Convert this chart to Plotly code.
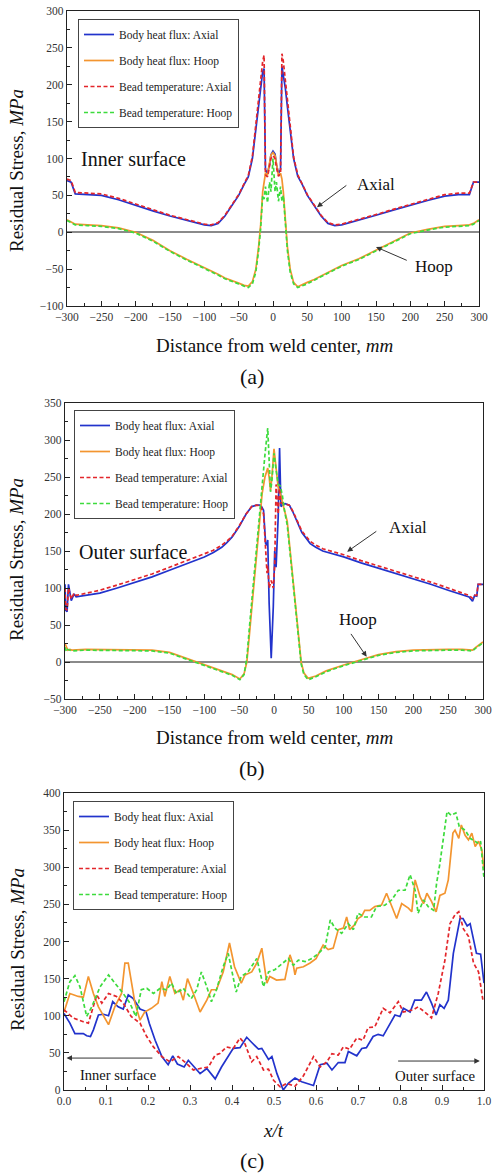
import plotly.graph_objects as go

# ---------------- Panel (a): inner surface ----------------
xa = [-300, -294, -288, -270, -250, -225, -200, -175, -150, -125, -100, -90, -80, -70, -60, -50, -42, -36, -30, -25,
      -21, -18, -15, -13, -11, -8, -5, -3, 0, 3, 5, 8, 11, 13, 15, 18, 21, 25, 30, 36, 42, 50, 60, 70, 80, 90, 100,
      125, 150, 175, 200, 225, 250, 270, 286, 292, 300]
a_bhf_axial = [70, 68, 52, 51, 50, 44, 36, 29, 22, 16, 10, 9, 12, 22, 36, 50, 65, 75, 100, 140,
               172, 196, 218, 222, 85, 80, 92, 105, 110, 106, 92, 80, 85, 225, 215, 195, 170, 138, 100, 76,
               66, 50, 36, 22, 12, 9, 10, 16, 23, 30, 37, 43, 49, 51, 51, 68, 68]
a_bt_axial = [72, 70, 54, 53, 52, 46, 38, 30, 23, 17, 11, 10, 13, 23, 37, 51, 66, 77, 103, 145,
              180, 208, 232, 240, 78, 75, 88, 100, 104, 100, 88, 76, 80, 242, 232, 205, 178, 142, 102, 78,
              67, 51, 37, 23, 13, 10, 11, 17, 24, 31, 38, 45, 51, 53, 53, 68, 68]
a_bhf_hoop = [17, 14, 11, 10, 9, 6, 0, -11, -25, -37, -48, -52, -57, -62, -66, -69, -72, -73, -67, -50,
              -20, 10, 55, 70, 80, 78, 95, 105, 108, 104, 93, 77, 80, 72, 55, 10, -20, -50, -68, -74,
              -71, -68, -64, -59, -54, -49, -45, -36, -24, -12, -1, 4, 8, 9, 10, 12, 17]
a_bt_hoop = [16, 13, 10, 9, 8, 5, -1, -12, -26, -38, -49, -53, -58, -63, -67, -70, -73, -75, -70, -54,
             -25, 5, 50, 45, 62, 40, 68, 55, 100, 55, 68, 42, 62, 42, 50, 5, -25, -54, -70, -75,
             -73, -70, -65, -60, -55, -50, -46, -37, -25, -13, -2, 3, 7, 8, 9, 11, 16]

# ---------------- Panel (b): outer surface ----------------
xb_axial = [-300, -299, -297, -295, -291, -287, -284, -270, -250, -225, -200, -175, -150, -125, -100, -87, -75, -68,
            -60, -50, -40, -32, -25, -19, -15, -12, -10, -9, -7, -4, -1, 1, 3, 6, 8, 10, 13, 16, 22, 27, 33, 40,
            52, 60, 70, 85, 100, 125, 150, 175, 200, 225, 250, 270, 280, 285, 288, 291, 293, 300]
b_bhf_axial = [105, 70, 68, 105, 83, 92, 88, 90, 93, 100, 107, 115, 124, 133, 142, 148, 155, 161, 169, 183,
               200, 210, 212, 212, 205, 160, 158, 165, 80, 5, 75, 150, 128, 196, 289, 210, 213, 214, 212, 203,
               190, 175, 160, 155, 150, 146, 142, 134, 127, 120, 112, 105, 97, 91, 88, 82, 90, 89, 105, 105]
b_bt_axial = [100, 72, 70, 100, 85, 93, 90, 93, 97, 104, 111, 119, 128, 137, 146, 151, 158, 163, 170, 184,
              200, 210, 212, 211, 200, 140, 120, 130, 100, 110, 100, 130, 240, 200, 235, 215, 214, 214, 212, 204,
              192, 177, 163, 158, 153, 149, 145, 137, 130, 123, 115, 108, 100, 94, 90, 86, 90, 90, 105, 105]
xb_hoop = [-300, -298, -296, -293, -290, -270, -250, -225, -200, -175, -150, -125, -111, -100, -75, -60, -49, -43,
           -39, -35, -30, -25, -21, -17, -13, -9, -7, -5, -3, 0, 3, 6, 9, 12, 15, 19, 23, 27, 31, 35, 39, 43, 49,
           60, 75, 100, 116, 125, 150, 175, 200, 225, 250, 270, 285, 290, 295, 300]
b_bhf_hoop = [25, 20, 16, 17, 16, 17, 17, 17, 17, 16, 13, 5, 0, -4, -12, -17, -23, -16, 0, 40,
              94, 146, 188, 228, 250, 262, 250, 232, 250, 288, 262, 236, 228, 218, 205, 190, 150, 112, 75, 37,
              0, -15, -22, -19, -12, -4, 0, 3, 10, 14, 16, 17, 17, 17, 16, 20, 23, 27]
b_bt_hoop = [20, 14, 17, 16, 15, 16, 16, 16, 16, 15, 12, 4, -1, -5, -13, -18, -24, -17, 5, 50,
             104, 156, 198, 240, 280, 316, 270, 230, 245, 282, 260, 240, 238, 225, 205, 185, 148, 110, 72, 35,
             -3, -17, -24, -20, -13, -5, -1, 2, 9, 13, 15, 16, 16, 16, 15, 19, 22, 26]

# ---------------- Panel (c): through thickness ----------------
xc_bhf_axial = [0, 0.014, 0.026, 0.046, 0.054, 0.063, 0.07, 0.082, 0.094, 0.106, 0.116, 0.129, 0.141, 0.153, 0.165,
                0.181, 0.195, 0.203, 0.217, 0.233, 0.248, 0.259, 0.27, 0.286, 0.296, 0.308, 0.324, 0.34, 0.36,
                0.375, 0.391, 0.403, 0.419, 0.435, 0.447, 0.463, 0.471, 0.487, 0.495, 0.507, 0.522, 0.534, 0.55,
                0.566, 0.594, 0.61, 0.626, 0.638, 0.653, 0.669, 0.677, 0.689, 0.697, 0.709, 0.72, 0.736, 0.748,
                0.76, 0.776, 0.788, 0.8, 0.808, 0.824, 0.835, 0.851, 0.863, 0.875, 0.886, 0.895, 0.905, 0.915,
                0.927, 0.943, 0.95, 0.96, 0.967, 0.982, 0.992, 1.0]
c_bhf_axial = [103, 90, 76, 76, 73, 72, 81, 101, 102, 100, 119, 112, 109, 128, 123, 109, 106, 90, 67, 45,
               34, 46, 35, 31, 40, 32, 22, 29, 15, 31, 45, 56, 57, 71, 64, 55, 56, 41, 45, 22,
               0, 9, 16, 11, 6, 34, 36, 27, 37, 37, 52, 49, 46, 56, 57, 72, 75, 73, 90, 101,
               99, 110, 105, 121, 121, 132, 117, 101, 115, 110, 121, 184, 231, 231, 221, 224, 184, 183, 144]
xc_bhf_hoop = [0, 0.014, 0.034, 0.046, 0.058, 0.07, 0.082, 0.094, 0.106, 0.121, 0.137, 0.145, 0.153, 0.169, 0.181,
               0.192, 0.208, 0.224, 0.233, 0.24, 0.252, 0.264, 0.276, 0.284, 0.294, 0.308, 0.324, 0.34, 0.351,
               0.363, 0.379, 0.394, 0.406, 0.422, 0.431, 0.447, 0.459, 0.471, 0.483, 0.49, 0.506, 0.526, 0.538,
               0.546, 0.55, 0.554, 0.57, 0.586, 0.6, 0.617, 0.629, 0.641, 0.653, 0.665, 0.673, 0.68, 0.693, 0.7,
               0.709, 0.716, 0.728, 0.74, 0.756, 0.768, 0.78, 0.792, 0.804, 0.82, 0.828, 0.836, 0.848, 0.856,
               0.864, 0.875, 0.886, 0.895, 0.907, 0.915, 0.926, 0.931, 0.94, 0.946, 0.955, 0.963, 0.971, 0.979,
               0.987, 0.995, 1.0]
c_bhf_hoop = [105, 130, 126, 125, 153, 130, 112, 99, 88, 112, 130, 171, 171, 117, 94, 105, 110, 117, 146, 126,
              153, 130, 135, 121, 150, 130, 105, 121, 135, 135, 159, 198, 166, 144, 155, 159, 171, 191, 144, 153,
              148, 149, 182, 168, 155, 164, 166, 171, 177, 195, 189, 191, 216, 218, 233, 216, 223, 231, 234, 242,
              242, 247, 249, 265, 249, 231, 251, 245, 240, 283, 260, 251, 265, 254, 240, 262, 265, 283, 346, 350,
              339, 357, 343, 337, 346, 328, 335, 323, 296]
xc_bt_axial = [0, 0.022, 0.046, 0.058, 0.078, 0.09, 0.106, 0.125, 0.141, 0.16, 0.181, 0.197, 0.213, 0.233, 0.252,
               0.272, 0.287, 0.308, 0.324, 0.344, 0.36, 0.371, 0.387, 0.403, 0.419, 0.431, 0.447, 0.459, 0.475,
               0.487, 0.499, 0.515, 0.53, 0.55, 0.57, 0.594, 0.61, 0.626, 0.638, 0.653, 0.665, 0.68, 0.697, 0.712,
               0.724, 0.74, 0.76, 0.776, 0.796, 0.808, 0.832, 0.843, 0.859, 0.875, 0.891, 0.907, 0.919, 0.931,
               0.94, 0.951, 0.963, 0.975, 0.987, 0.998]
c_bt_axial = [108, 97, 92, 90, 128, 117, 130, 126, 117, 99, 90, 72, 58, 45, 38, 45, 38, 27, 29, 31,
              47, 49, 58, 56, 70, 62, 38, 45, 27, 28, 13, 4, 9, 5, 19, 45, 31, 38, 49, 47,
              58, 55, 70, 67, 84, 85, 110, 104, 119, 105, 108, 112, 105, 97, 130, 175, 224, 236, 240, 217,
              207, 171, 159, 119]
xc_bt_hoop = [0, 0.014, 0.026, 0.038, 0.054, 0.066, 0.086, 0.106, 0.121, 0.141, 0.157, 0.171, 0.184, 0.197, 0.213,
              0.229, 0.244, 0.256, 0.268, 0.284, 0.303, 0.316, 0.327, 0.34, 0.351, 0.363, 0.379, 0.391, 0.41,
              0.422, 0.438, 0.459, 0.475, 0.487, 0.502, 0.514, 0.534, 0.546, 0.558, 0.574, 0.59, 0.606, 0.622,
              0.634, 0.645, 0.661, 0.677, 0.689, 0.7, 0.716, 0.732, 0.744, 0.764, 0.78, 0.796, 0.812, 0.824,
              0.836, 0.843, 0.856, 0.867, 0.88, 0.887, 0.895, 0.903, 0.912, 0.922, 0.933, 0.941, 0.955, 0.967,
              0.979, 0.987, 0.992, 1.0]
c_bt_hoop = [119, 146, 154, 139, 99, 112, 139, 155, 144, 130, 117, 99, 135, 137, 130, 137, 135, 144, 130, 137,
             123, 135, 159, 139, 119, 135, 166, 184, 132, 153, 159, 177, 139, 159, 162, 168, 177, 168, 175, 173,
             177, 184, 193, 229, 218, 211, 224, 216, 238, 233, 233, 247, 249, 256, 269, 269, 290, 269, 238, 256,
             247, 242, 278, 305, 337, 375, 370, 373, 355, 350, 339, 335, 332, 335, 285]

series_names = ["Body heat flux: Axial", "Body heat flux: Hoop", "Bead temperature: Axial", "Bead temperature: Hoop"]

# ---------------- styling ----------------
W, H = 492, 1173
SERIF = "Liberation Serif, Times New Roman, serif"
COLORS = ["#2233CC", "#F39530", "#E3262B", "#3DDB3D"]
DASHES = ["solid", "solid", "4px,2.5px", "4px,2.5px"]
LW = 1.7

fig = go.Figure()

panels = [
    ("x", "y", "legend", [(xa, a_bhf_axial), (xa, a_bhf_hoop), (xa, a_bt_axial), (xa, a_bt_hoop)]),
    ("x2", "y2", "legend2", [(xb_axial, b_bhf_axial), (xb_hoop, b_bhf_hoop), (xb_axial, b_bt_axial), (xb_hoop, b_bt_hoop)]),
    ("x3", "y3", "legend3", [(xc_bhf_axial, c_bhf_axial), (xc_bhf_hoop, c_bhf_hoop), (xc_bt_axial, c_bt_axial), (xc_bt_hoop, c_bt_hoop)]),
]
for xr, yr, lg, series in panels:
    for i, (xs, ys) in enumerate(series):
        fig.add_trace(go.Scatter(x=xs, y=ys, mode="lines", name=series_names[i], xaxis=xr, yaxis=yr, legend=lg,
                                 legendgroup=f"{lg}_{i}",
                                 line=dict(color=COLORS[i], width=LW, dash=DASHES[i])))

def px_x(px):
    return px / W

def px_y(py):
    return 1 - py / H

tickfont = dict(family=SERIF, size=11.5, color="#333")
def axis_style(rng, dtick, minor_dtick, domain, anchor, fmt=None, zero=False):
    d = dict(range=rng, dtick=dtick, domain=domain, anchor=anchor, showline=True, linecolor="#222", linewidth=1.2,
             mirror=True, ticks="inside", ticklen=5, tickwidth=1, tickcolor="#222", showgrid=False,
             zeroline=zero, zerolinecolor="#8a8a8a", zerolinewidth=1.5, tickfont=tickfont, automargin=False,
             minor=dict(ticks="inside", ticklen=3, tickwidth=1, tickcolor="#222", dtick=minor_dtick, showgrid=False))
    if fmt:
        d["tickformat"] = fmt
    return d

legend_style = dict(xanchor="left", yanchor="top", bordercolor="#444", borderwidth=1, bgcolor="white",
                    font=dict(family=SERIF, size=11.5, color="#222"), itemwidth=30, tracegroupgap=7)

fig.update_layout(
    width=W, height=H, margin=dict(l=0, r=0, t=0, b=0, autoexpand=False), paper_bgcolor="white",
    plot_bgcolor="white",
    xaxis=axis_style([-300, 300], 50, 25, [px_x(67), px_x(479)], "y"),
    yaxis=axis_style([-100, 300], 50, 25, [px_y(306), px_y(11)], "x", zero=True),
    xaxis2=axis_style([-300, 300], 50, 25, [px_x(65), px_x(483)], "y2"),
    yaxis2=axis_style([-50, 350], 50, 25, [px_y(699), px_y(403)], "x2", zero=True),
    xaxis3=axis_style([0, 1], 0.1, 0.05, [px_x(64), px_x(484)], "y3", fmt=".1f"),
    yaxis3=axis_style([0, 400], 50, 25, [px_y(1090), px_y(793)], "x3"),
    legend=dict(x=px_x(78), y=px_y(19), **legend_style),
    legend2=dict(x=px_x(74), y=px_y(410), **legend_style),
    legend3=dict(x=px_x(73), y=px_y(801), **legend_style),
    showlegend=True,
)

def text_ann(text, px, py, size, xanchor="center", angle=0):
    fig.add_annotation(text=text, x=px_x(px), y=px_y(py), xref="paper", yref="paper", showarrow=False,
                       xanchor=xanchor, yanchor="middle", textangle=angle,
                       font=dict(family=SERIF, size=size, color="#111"))

def arrow(xr, yr, x_head, y_head, x_tail, y_tail):
    fig.add_annotation(x=x_head, y=y_head, ax=x_tail, ay=y_tail, xref=xr, yref=yr, axref=xr, ayref=yr,
                       text="", showarrow=True, arrowhead=2, arrowsize=1.1, arrowwidth=1, arrowcolor="#333",
                       standoff=0, startstandoff=0)

# axis titles and panel labels
ytitle = "Residual Stress, <i>MPa</i>"
xtitle = "Distance from weld center, <i>mm</i>"
text_ann(ytitle, 17, 171, 19, angle=-90)
text_ann(ytitle, 17, 560, 19, angle=-90)
text_ann(ytitle, 17, 950, 19, angle=-90)
text_ann(xtitle, 274, 345, 19)
text_ann(xtitle, 274, 738, 19)
text_ann("<i>x/t</i>", 273, 1130, 19)
text_ann("(a)", 252, 376, 22)
text_ann("(b)", 252, 768, 22)
text_ann("(c)", 252, 1160, 22)

# in-plot labels
text_ann("Inner surface", 79, 159, 20, xanchor="left")
text_ann("Axial", 355, 184, 17, xanchor="left")
text_ann("Hoop", 413, 266, 17, xanchor="left")
text_ann("Outer surface", 77, 552, 20, xanchor="left")
text_ann("Axial", 387, 527, 17, xanchor="left")
text_ann("Hoop", 337, 619, 17, xanchor="left")
text_ann("Inner surface", 78, 1075, 14.5, xanchor="left")
text_ann("Outer surface", 393, 1076, 14.8, xanchor="left")

arrow("x", "y", 64, 34, 109, 65)
arrow("x", "y", 150, -20, 197, -39)
arrow("x2", "y2", 105, 149, 149, 178)
arrow("x2", "y2", 133, 7, 109, 40)
arrow("x3", "y3", 0.006, 43, 0.214, 43)
arrow("x3", "y3", 0.99, 39, 0.792, 39)

fig.write_html("out.html")
